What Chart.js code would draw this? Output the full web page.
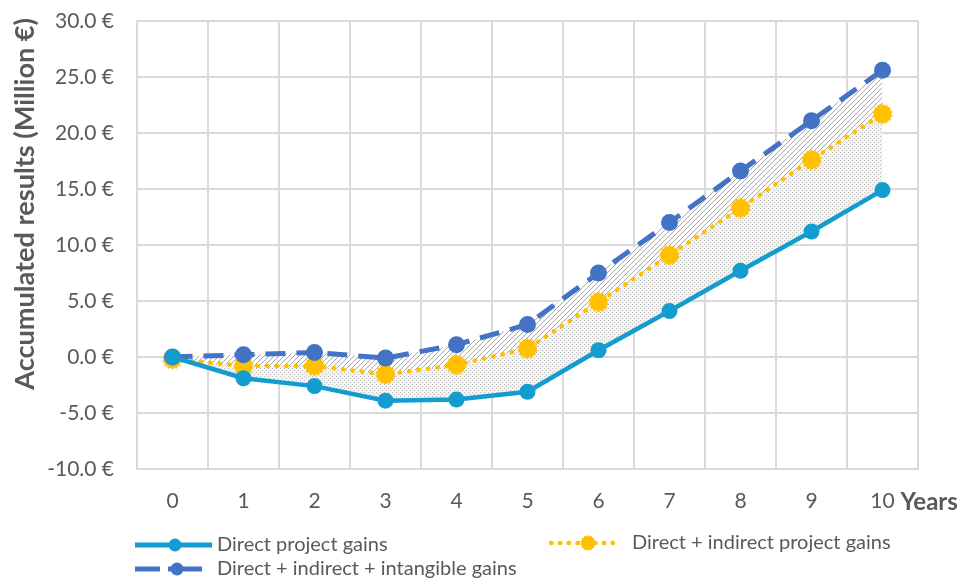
<!DOCTYPE html>
<html>
<head>
<meta charset="utf-8">
<script src="https://cdn.jsdelivr.net/npm/chart.js@4/dist/chart.umd.min.js"></script>
<style>
  html, body { margin: 0; padding: 0; background: #ffffff; }
  #wrap { width: 965px; height: 578px; }
</style>
</head>
<body>
<div id="wrap"><canvas id="c" width="965" height="578"></canvas></div>
<script>
// Accumulated results per year (million €)
const years = ['0', '1', '2', '3', '4', '5', '6', '7', '8', '9', '10'];
const directGains = [0, -1.9, -2.6, -3.9, -3.8, -3.1, 0.6, 4.1, 7.7, 11.2, 14.9];
const indirectGains = [-0.2, -0.8, -0.8, -1.55, -0.7, 0.75, 4.9, 9.1, 13.3, 17.6, 21.7];
const intangibleGains = [0, 0.2, 0.4, -0.1, 1.1, 2.9, 7.5, 12.0, 16.6, 21.1, 25.6];

const seriesNames = [
  'Direct project gains',
  'Direct + indirect project gains',
  'Direct + indirect + intangible gains'
];
const yTicks = { min: -10, max: 30, step: 5 };
const yTitle = 'Accumulated results (Million €)';
const xUnit = 'Years';

const FONT = 'Lato, "Open Sans", sans-serif';
const GREY_TEXT = '#595959';
const CYAN = '#139CD0';
const GOLD = '#FFC000';
const BLUE = '#4472C4';

// Fill textures
function dotPattern() {
  const t = document.createElement('canvas');
  t.width = 4; t.height = 4;
  const g = t.getContext('2d');
  g.fillStyle = '#f4f4f4';
  g.fillRect(0, 0, 4, 4);
  g.fillStyle = '#bcbcbc';
  g.fillRect(0, 0, 1, 1);
  g.fillRect(2, 2, 1, 1);
  return g.createPattern(t, 'repeat');
}
function hatchPattern() {
  const s = 5;
  const t = document.createElement('canvas');
  t.width = s; t.height = s;
  const g = t.getContext('2d');
  g.fillStyle = '#ffffff';
  g.fillRect(0, 0, s, s);
  g.strokeStyle = '#a6a6a6';
  g.lineWidth = 1;
  g.beginPath();
  g.moveTo(-1, s + 1); g.lineTo(s + 1, -1);
  g.moveTo(-1, 1); g.lineTo(1, -1);
  g.moveTo(s - 1, s + 1); g.lineTo(s + 1, s - 1);
  g.stroke();
  return g.createPattern(t, 'repeat');
}
// Sunburst marker for the middle series
function gearMarker(r, color) {
  const size = Math.ceil(r * 2 + 2);
  const t = document.createElement('canvas');
  t.width = size; t.height = size;
  const g = t.getContext('2d');
  const c = size / 2, spikes = 14, inner = r * 0.82;
  g.beginPath();
  for (let i = 0; i < spikes * 2; i++) {
    const rad = i % 2 === 0 ? r : inner;
    const a = (Math.PI * i) / spikes - Math.PI / 2;
    const x = c + rad * Math.cos(a), y = c + rad * Math.sin(a);
    i === 0 ? g.moveTo(x, y) : g.lineTo(x, y);
  }
  g.closePath();
  g.fillStyle = color;
  g.fill();
  return t;
}
const gear = gearMarker(10.5, GOLD);
const gearSmall = gearMarker(8, GOLD);

// Axis title, unit label and a two-column legend under the plot
const annotationPlugin = {
  id: 'annotations',
  afterDraw(chart) {
    const ctx = chart.ctx;
    ctx.save();

    // Rotated value-axis title, ending near the top of the plot
    ctx.save();
    ctx.font = 'bold 21px ' + FONT;
    const w = ctx.measureText(yTitle).width;
    const size = 21 * 372 / w;
    ctx.font = 'bold ' + size.toFixed(2) + 'px ' + FONT;
    ctx.translate(25, 18);
    ctx.rotate(-Math.PI / 2);
    ctx.textAlign = 'right';
    ctx.textBaseline = 'middle';
    ctx.fillStyle = GREY_TEXT;
    ctx.fillText(yTitle, 0, 0);
    ctx.restore();

    // Legend
    const entries = [
      { ds: 0, y: 545, segs: [[135, 212]], mx: 175, tx: 217 },
      { ds: 1, y: 543, segs: [[551, 613]], mx: 588, tx: 632 },
      { ds: 2, y: 569, segs: [[135, 160], [168, 202]], mx: 177, tx: 217 }
    ];
    ctx.font = '20px ' + FONT;
    ctx.textBaseline = 'middle';
    entries.forEach(e => {
      const ds = chart.data.datasets[e.ds];
      ctx.save();
      ctx.strokeStyle = ds.borderColor;
      if (e.ds === 1) {
        ctx.lineWidth = 4.5;
        ctx.lineCap = 'round';
        ctx.setLineDash([0.5, 8.3]);
      } else {
        ctx.lineWidth = 5;
        ctx.lineCap = 'butt';
      }
      e.segs.forEach(([a, b]) => {
        ctx.beginPath();
        ctx.moveTo(a, e.y);
        ctx.lineTo(b, e.y);
        ctx.stroke();
      });
      ctx.setLineDash([]);
      if (e.ds === 1) {
        ctx.drawImage(gearSmall, e.mx - gearSmall.width / 2, e.y - gearSmall.height / 2);
      } else {
        ctx.fillStyle = ds.borderColor;
        ctx.beginPath();
        ctx.arc(e.mx, e.y, 6.5, 0, Math.PI * 2);
        ctx.fill();
      }
      ctx.restore();
      ctx.fillStyle = GREY_TEXT;
      ctx.fillText(ds.label, e.tx, e.y);
    });

    // Unit label after the last category
    const xs = chart.scales.x;
    const lastX = xs.getPixelForValue(years.length - 1);
    ctx.font = 'bold 24px ' + FONT;
    ctx.fillStyle = GREY_TEXT;
    ctx.textAlign = 'left';
    ctx.fillText(xUnit, lastX + 18, 502);
    ctx.restore();
  }
};

new Chart(document.getElementById('c'), {
  type: 'line',
  data: {
    labels: years,
    datasets: [
      {
        label: seriesNames[0],
        data: directGains,
        borderColor: CYAN,
        backgroundColor: CYAN,
        borderWidth: 4.5,
        pointRadius: 8,
        pointHoverRadius: 8,
        pointBackgroundColor: CYAN,
        pointBorderWidth: 0,
        fill: false,
        order: 1
      },
      {
        label: seriesNames[1],
        data: indirectGains,
        borderColor: GOLD,
        backgroundColor: dotPattern(),
        borderWidth: 4.5,
        borderDash: [0.5, 9],
        borderCapStyle: 'round',
        pointStyle: gear,
        pointRadius: 10,
        fill: { target: 0 },
        order: 3
      },
      {
        label: seriesNames[2],
        data: intangibleGains,
        borderColor: BLUE,
        backgroundColor: hatchPattern(),
        borderWidth: 5,
        borderDash: [20, 11],
        pointRadius: 8.5,
        pointHoverRadius: 8.5,
        pointBackgroundColor: BLUE,
        pointBorderWidth: 0,
        fill: { target: 1 },
        order: 2
      }
    ]
  },
  options: {
    responsive: false,
    animation: false,
    layout: { padding: { left: 0, right: 47, top: 21, bottom: 0 } },
    plugins: {
      legend: { display: false },
      tooltip: { enabled: false },
      filler: { drawTime: 'beforeDatasetsDraw' }
    },
    scales: {
      x: {
        offset: true,
        grid: { color: '#d9d9d9', lineWidth: 2, offset: true, drawTicks: false },
        border: { color: '#d9d9d9', width: 2 },
        ticks: { color: GREY_TEXT, font: { family: FONT, size: 21 }, padding: 20 },
        afterFit(s) {
          s.height = 109;
          s.paddingLeft = 0;
          s.paddingRight = 0;
        }
      },
      y: {
        min: yTicks.min,
        max: yTicks.max,
        grid: { color: '#d9d9d9', lineWidth: 2, drawTicks: false },
        border: { color: '#d9d9d9', width: 2 },
        ticks: {
          stepSize: yTicks.step,
          color: GREY_TEXT,
          font: { family: FONT, size: 21 },
          padding: 23,
          callback: v => v.toFixed(1) + ' €'
        },
        afterFit(s) {
          s.width = 137;
          s.paddingTop = 0;
          s.paddingBottom = 0;
        }
      }
    }
  },
  plugins: [annotationPlugin]
});
</script>
</body>
</html>
